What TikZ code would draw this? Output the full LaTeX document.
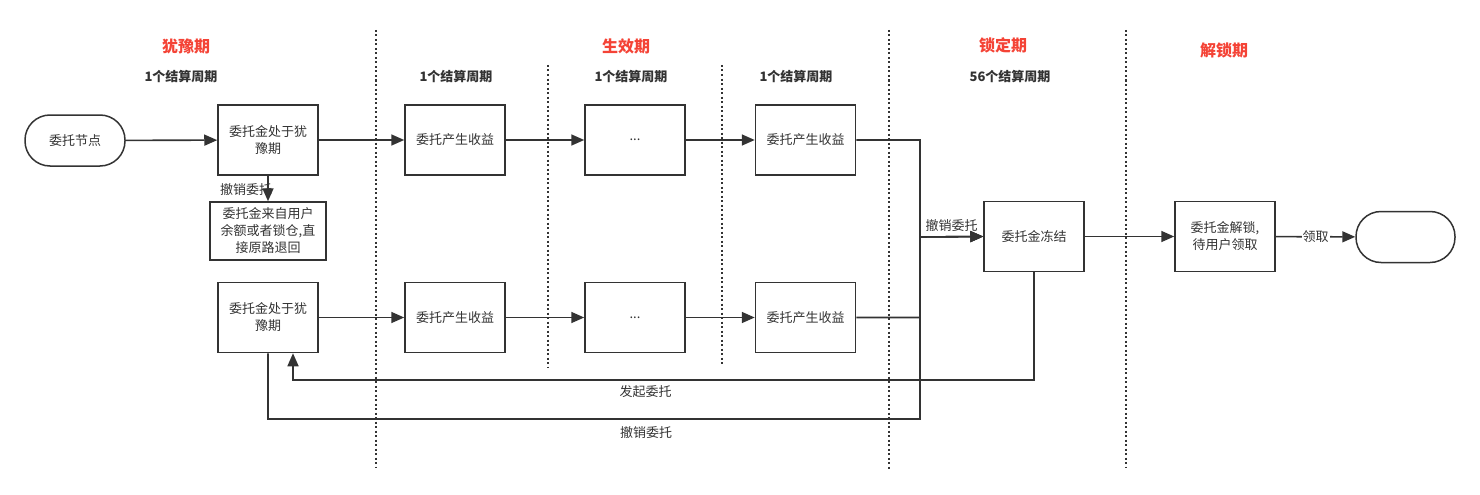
\documentclass[tikz,border=0pt]{standalone}
\usepackage{fontspec}
\setmainfont{Noto Sans CJK SC}
\usetikzlibrary{arrows.meta}
\definecolor{ln}{HTML}{333333}
\definecolor{hd}{HTML}{F44336}
\tikzset{
  box/.style={draw=ln, line width=1.5pt, minimum width=100pt, minimum height=70pt, align=center, text=ln, font=\fontsize{13}{17}\selectfont, inner sep=2pt},
  term/.style={draw=ln, line width=1.5pt, minimum width=100pt, minimum height=51pt, rounded corners=25pt, align=center, text=ln, font=\fontsize{13}{17}\selectfont},
  arr/.style={draw=ln, line width=1.6pt, -{Triangle[length=13pt,width=11pt]}},
  sep/.style={draw=ln, line width=1.3pt, dash pattern=on 2pt off 2.5pt},
  head/.style={text=hd, font=\fontsize{16}{19}\selectfont\bfseries},
  per/.style={text=ln, font=\fontsize{13}{15}\selectfont\bfseries},
  lbl/.style={text=ln, font=\fontsize{13}{15}\selectfont, inner sep=1pt}
}
\begin{document}
\begin{tikzpicture}[x=1pt,y=-1pt]
\useasboundingbox (0,0) rectangle (1480,495);
% separators
\draw[sep] (376,30) -- (376,467);
\draw[sep] (889,30) -- (889,470);
\draw[sep] (1126,30) -- (1126,467);
\draw[sep] (548,65) -- (548,368);
\draw[sep] (722,65) -- (722,365);
% headings
\node[head] (h1) at (186,46) {犹豫期};
\node[head] (h2) at (626,46) {生效期};
\node[head] (h3) at (1003,45) {锁定期};
\node[head] (h4) at (1224,50) {解锁期};
\node[per] (p1) at (181,77) {1个结算周期};
\node[per] (p2) at (456,77) {1个结算周期};
\node[per] (p3) at (631,77) {1个结算周期};
\node[per] (p4) at (796,77) {1个结算周期};
\node[per] (p5) at (1010,77) {56个结算周期};
% nodes row 1
\node[term] (start) at (75,140.5) {委托节点};
\node[box] (A) at (268,140) {委托金处于犹\\豫期};
\node[box] (B) at (455,140) {委托产生收益};
\node[box] (C) at (635,140) {...};
\node[box] (D) at (805.5,140) {委托产生收益};
\node[box, minimum width=116pt, minimum height=58pt] (R) at (268,231) {委托金来自用户\\余额或者锁仓,直\\接原路退回};
% row 2
\node[box] (A2) at (268,317.5) {委托金处于犹\\豫期};
\node[box] (B2) at (455,317.5) {委托产生收益};
\node[box] (C2) at (635,317.5) {...};
\node[box] (D2) at (805.5,317.5) {委托产生收益};
% right
\node[box] (F) at (1034,236.5) {委托金冻结};
\node[box] (U) at (1225,236.5) {委托金解锁,\\待用户领取};
\node[term, minimum width=99pt] (E) at (1405.5,237) {};
% helper coordinates
\coordinate (mx) at (920,237);
\coordinate (bl) at (920,419);
\coordinate (ret) at (293,380);
% connectors
\draw[arr] (start) -- (A);
\draw[arr] (A) -- (B);
\draw[arr] (B) -- (C);
\draw[arr] (C) -- (D);
\draw[arr] (A) -- node[lbl, left, xshift=6pt, yshift=-1pt] {撤销委托} (R);
\draw[arr] (A2) -- (B2);
\draw[arr] (B2) -- (C2);
\draw[arr] (C2) -- (D2);
\draw[arr] (D.east) -- (D.east -| mx) -- (mx) -- (F.west);
\draw[arr] (D2.east) -- (D2.east -| mx) -- (mx) -- node[lbl, above=3pt] {撤销委托} (F.west);
\draw[arr] (A2.south) -- (A2.south |- bl) -- node[lbl, below=6pt, pos=0.58] {撤销委托} (bl) -- (mx) -- (F.west);
\draw[arr] (F.south) -- (F.south |- ret) -- node[lbl, below=4pt, pos=0.524] {发起委托} (ret) -- (ret |- A2.south);
\draw[arr] (F) -- (U);
\draw[arr] (U) -- node[lbl, fill=white, inner sep=1pt] {领取} (E);
\end{tikzpicture}
\end{document}
